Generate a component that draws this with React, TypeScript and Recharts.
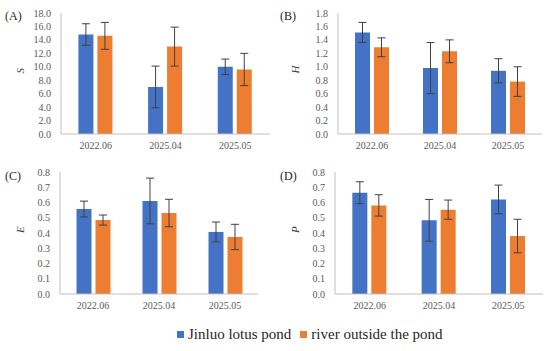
import React from 'react';
import { BarChart, Bar, XAxis, YAxis, ErrorBar } from 'recharts';

const categories = ['2022.06', '2025.04', '2025.05'];

// (A) S
const pondS = [14.8, 7.0, 10.0];
const pondSErr = [1.6, 3.1, 1.15];
const riverS = [14.6, 13.0, 9.6];
const riverSErr = [2.0, 2.9, 2.4];

// (B) H
const pondH = [1.51, 0.98, 0.94];
const pondHErr = [0.15, 0.38, 0.18];
const riverH = [1.29, 1.23, 0.78];
const riverHErr = [0.14, 0.17, 0.22];

// (C) E
const pondE = [0.557, 0.61, 0.407];
const pondEErr = [0.052, 0.15, 0.065];
const riverE = [0.485, 0.531, 0.374];
const riverEErr = [0.033, 0.09, 0.083];

// (D) P
const pondP = [0.664, 0.483, 0.62];
const pondPErr = [0.072, 0.137, 0.094];
const riverP = [0.581, 0.553, 0.38];
const riverPErr = [0.07, 0.063, 0.11];

const ticksS = [0, 2, 4, 6, 8, 10, 12, 14, 16, 18];
const ticksH = [0, 0.2, 0.4, 0.6, 0.8, 1.0, 1.2, 1.4, 1.6, 1.8];
const ticksEP = [0, 0.1, 0.2, 0.3, 0.4, 0.5, 0.6, 0.7, 0.8];

const BLUE = '#4472C4';
const ORANGE = '#ED7D31';
const FONT = 'Liberation Serif';
const AXIS = '#BFBFBF';
const TICK = '#595959';

const build = (a: number[], ae: number[], b: number[], be: number[]) =>
  categories.map((c, i) => ({ cat: c, pond: a[i], pondErr: ae[i], river: b[i], riverErr: be[i] }));

interface PanelProps {
  tag: string;
  yLabel: string;
  data: any[];
  ticks: number[];
  left: number;
  top: number;
  margin: { top: number; right: number };
  yWidth: number;
}

const Panel: React.FC<PanelProps> = ({ tag, yLabel, data, ticks, left, top, margin, yWidth }) => (
  <div style={{ position: 'absolute', left, top, width: 275, height: 160 }}>
    <BarChart
      width={275}
      height={160}
      data={data}
      margin={{ top: margin.top, right: margin.right, left: 0, bottom: 0 }}
      barCategoryGap="25%"
      barGap={4}
    >
      <XAxis
        dataKey="cat"
        height={26}
        axisLine={{ stroke: AXIS }}
        tickLine={false}
        tick={{ fill: TICK, fontSize: 10, fontFamily: FONT }}
      />
      <YAxis
        width={yWidth}
        domain={[0, ticks[ticks.length - 1]]}
        ticks={ticks}
        interval={0}
        axisLine={{ stroke: AXIS }}
        tickLine={false}
        tickMargin={4}
        tickFormatter={(v: number) => v.toFixed(1)}
        tick={{ fill: TICK, fontSize: 10, fontFamily: FONT }}
        label={{
          value: yLabel,
          angle: -90,
          position: 'insideLeft',
          offset: 20,
          style: { fontStyle: 'italic', fontFamily: FONT, fontSize: 11, fill: '#404040' },
        }}
      />
      <Bar dataKey="pond" fill={BLUE} isAnimationActive={false}>
        <ErrorBar dataKey="pondErr" width={4} stroke="#404040" strokeWidth={1} />
      </Bar>
      <Bar dataKey="river" fill={ORANGE} isAnimationActive={false}>
        <ErrorBar dataKey="riverErr" width={4} stroke="#404040" strokeWidth={1} />
      </Bar>
    </BarChart>
    <div
      style={{
        position: 'absolute',
        left: 5,
        top: 9,
        fontFamily: FONT,
        fontSize: 12,
        color: '#262626',
      }}
    >
      {tag}
    </div>
  </div>
);

const App: React.FC = () => (
  <div style={{ position: 'absolute', left: 0, top: 0, width: 550, height: 351, background: '#fff' }}>
    <Panel tag="(A)" yLabel="S" data={build(pondS, pondSErr, riverS, riverSErr)} ticks={ticksS}
      left={0} top={0} margin={{ top: 13, right: 5 }} yWidth={61} />
    <Panel tag="(B)" yLabel="H" data={build(pondH, pondHErr, riverH, riverHErr)} ticks={ticksH}
      left={275} top={0} margin={{ top: 13, right: 8 }} yWidth={63} />
    <Panel tag="(C)" yLabel="E" data={build(pondE, pondEErr, riverE, riverEErr)} ticks={ticksEP}
      left={0} top={160} margin={{ top: 12, right: 17 }} yWidth={60} />
    <Panel tag="(D)" yLabel="P" data={build(pondP, pondPErr, riverP, riverPErr)} ticks={ticksEP}
      left={275} top={160} margin={{ top: 12, right: 7 }} yWidth={60} />
    <div
      style={{
        position: 'absolute',
        left: 177,
        top: 326,
        display: 'flex',
        alignItems: 'center',
        fontFamily: FONT,
        fontSize: 15,
        color: '#262626',
        whiteSpace: 'nowrap',
      }}
    >
      <span style={{ display: 'flex', alignItems: 'center', marginRight: 9 }}>
        <span style={{ width: 7, height: 7, background: BLUE, marginRight: 4 }} />
        Jinluo lotus pond
      </span>
      <span style={{ display: 'flex', alignItems: 'center' }}>
        <span style={{ width: 7, height: 7, background: ORANGE, marginRight: 4 }} />
        river outside the pond
      </span>
    </div>
  </div>
);

export default App;
